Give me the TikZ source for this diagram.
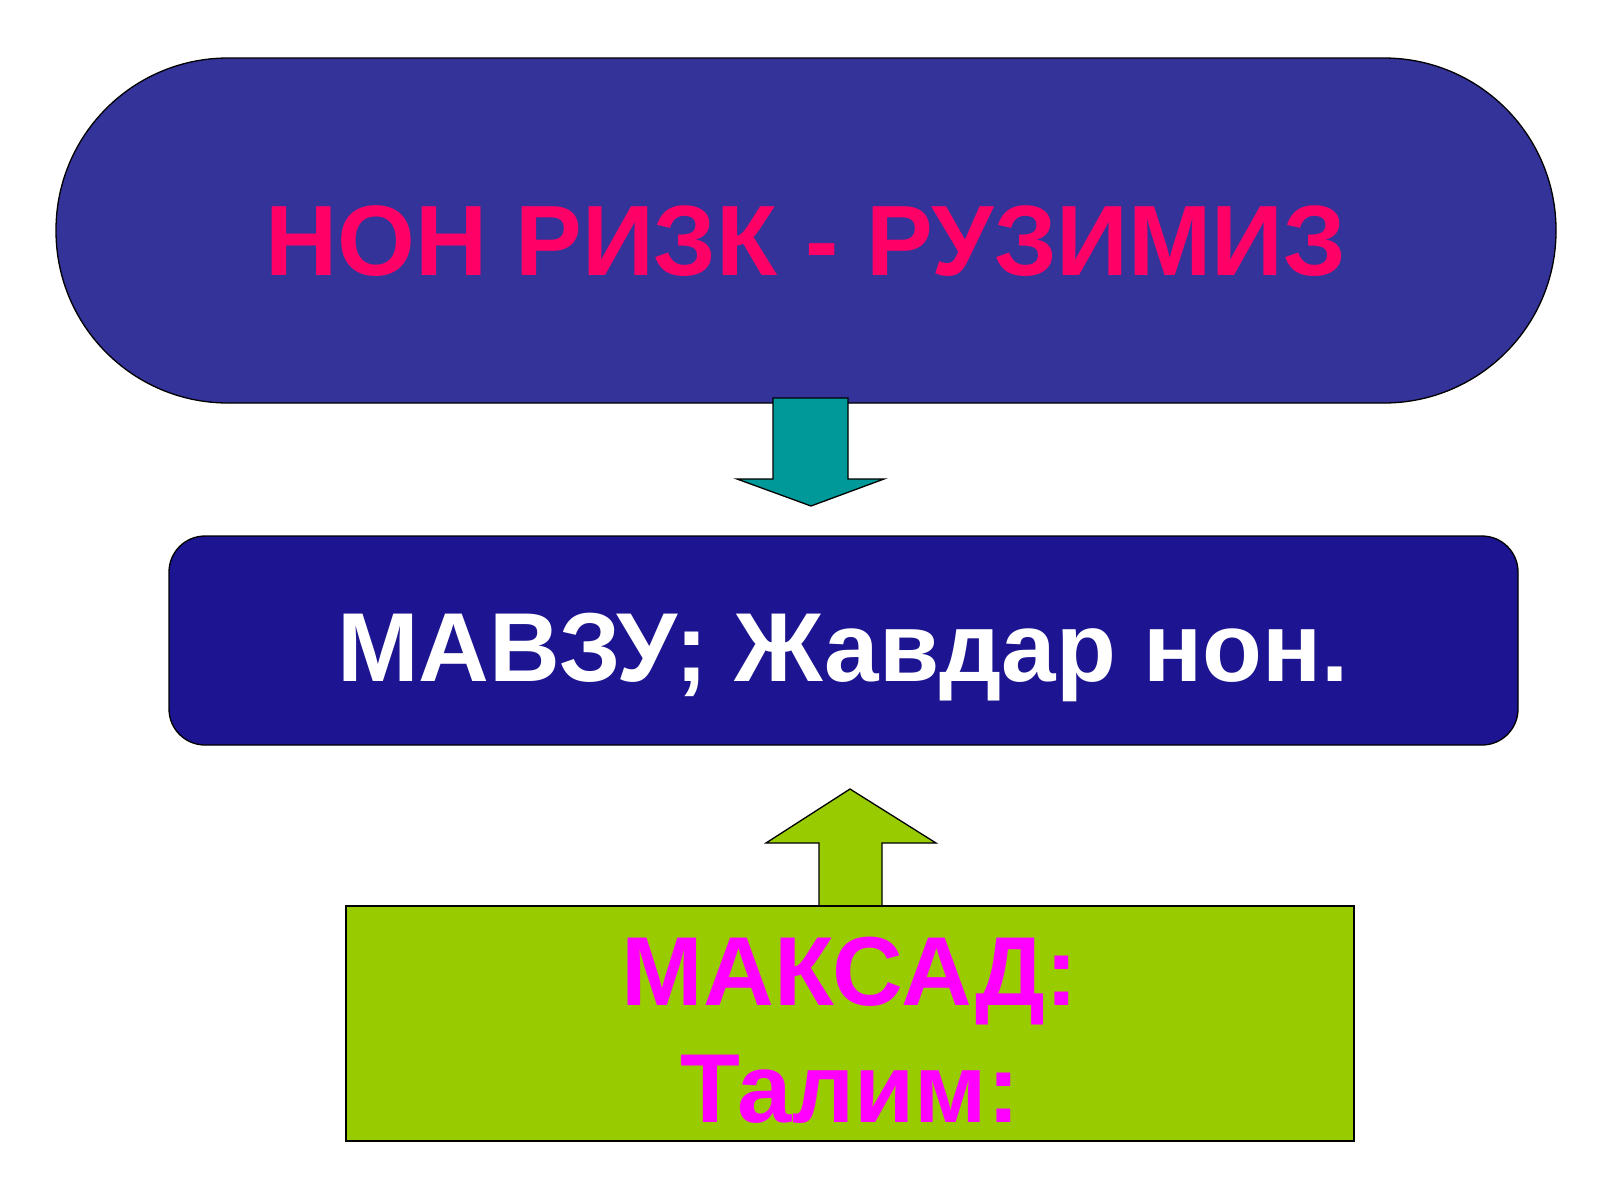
\documentclass[tikz,border=0pt]{standalone}
\usepackage{fontspec}
\setmainfont{Liberation Sans}
\definecolor{topblue}{HTML}{333399}
\definecolor{midblue}{HTML}{1C1490}
\definecolor{titlered}{HTML}{FF0066}
\definecolor{tealc}{HTML}{009999}
\definecolor{limec}{HTML}{99CC00}
\definecolor{magc}{HTML}{FF00FF}
\tikzset{
  shapeline/.style={draw=black, line width=1.3pt},
  bigtxt/.style={font=\bfseries\fontsize{102}{117}\selectfont, inner sep=0pt, anchor=base}
}
\begin{document}
\begin{tikzpicture}[x=1pt,y=-1pt]
\useasboundingbox (0,0) rectangle (1600,1200);
\fill[white] (0,0) rectangle (1600,1200);
% top stadium
\draw[shapeline, fill=topblue, rounded corners=172pt] (56,58) rectangle (1556,403);
\node[bigtxt, font=\bfseries\fontsize{100}{117}\selectfont, text=titlered] (title) at (806,275) {НОН РИЗК - РУЗИМИЗ};
% down arrow
\draw[shapeline, fill=tealc] (773,398) -- (848,398) -- (848,479) -- (884,479) -- (811,506) -- (737,479) -- (773,479) -- cycle;
% middle box
\draw[shapeline, fill=midblue, rounded corners=36pt] (169,536) rectangle (1518,745);
\node[bigtxt, font=\bfseries\fontsize{98}{110}\selectfont, text=white] (topic) at (843,681) {МАВЗУ; Жавдар нон.};
% up arrow
\draw[shapeline, fill=limec] (819,907) -- (819,843) -- (766,843) -- (850,789) -- (936,843) -- (882,843) -- (882,907) -- cycle;
% green box
\draw[shapeline, fill=limec] (346,906) rectangle (1354,1141);
\node[bigtxt, font=\bfseries\fontsize{98}{117}\selectfont, text=magc] (goal) at (850,1005) {МАКСАД:};
\node[bigtxt, font=\bfseries\fontsize{98}{117}\selectfont, text=magc] (learn) at (850,1122) {Талим:};
\end{tikzpicture}
\end{document}
